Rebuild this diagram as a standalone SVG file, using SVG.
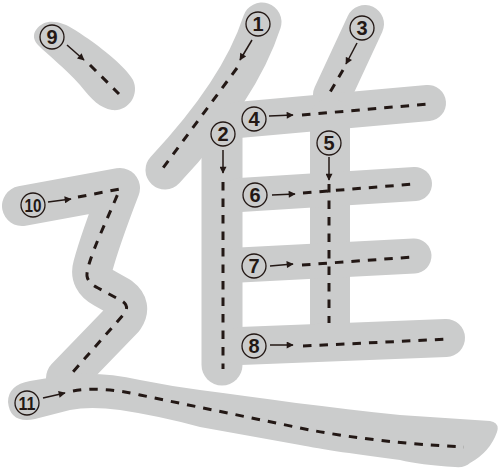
<svg xmlns="http://www.w3.org/2000/svg" width="499" height="470" viewBox="0 0 499 470">
<style>
.b{fill:none;stroke:#cbcccc;stroke-linecap:round;stroke-linejoin:round}
.bf{fill:#cbcccc;stroke:none}
.d{fill:none;stroke:#231815;stroke-width:3;stroke-dasharray:8.5 8}
.c{fill:none;stroke:#231815;stroke-width:1.3}
.n{font-family:"Liberation Sans","DejaVu Sans",sans-serif;font-weight:bold;font-size:20px;fill:#231815;text-anchor:middle}
.n2{font-family:"Liberation Sans Narrow","Liberation Sans",sans-serif;font-weight:bold;font-size:19px;fill:#231815;text-anchor:middle}
.a{fill:none;stroke:#231815;stroke-width:1.5}
</style>
<defs>
<marker id="ah" viewBox="0 0 10 10" refX="9" refY="5" markerWidth="8" markerHeight="7" orient="auto" markerUnits="userSpaceOnUse">
<path d="M0,0 L10,5 L0,10 Z" fill="#231815"/>
</marker>
</defs>
<rect width="499" height="470" fill="#ffffff"/>
<g id="glyph">
<path class="b" stroke-width="39" d="M262,22 Q240,90 165,170"/>
<path class="b" stroke-width="41" d="M222,110 L222,365"/>
<path class="b" stroke-width="38" d="M365,24 L332,95"/>
<path class="b" stroke-width="36" d="M238,120 L428,103"/>
<path class="b" stroke-width="40" d="M330,118 L330,330"/>
<path class="b" stroke-width="34" d="M240,195 L415,184"/>
<path class="b" stroke-width="35" d="M240,265 L414,256"/>
<path class="b" stroke-width="38" d="M240,346 L446,338"/>
<path class="bf" d="M36,30 C44,18 60,20 75,30 C100,46 125,66 133,80 C140,95 128,112 112,110 C100,108 92,100 80,85 C65,68 48,55 38,45 C33,40 33,34 36,30 Z"/>
<path class="b" stroke-width="40" d="M22,206 L120,188 Q100,240 93,266 Q89,280 104,288 L120,297 Q132,306 124,318 L66,378"/>
<path class="bf" d="M30,381 L60,376 Q95,370 140,380 Q170,386 200,390 C260,398 330,408 400,415 L490,421 Q500,423 497,432 Q490,452 470,463 Q465,468 455,467 Q420,465 400,460 C360,455 320,449 300,445 L200,427 Q160,416 120,410 Q90,406 70,410 L35,419 Q10,424 8,402 Q8,385 30,381 Z"/>
</g>
<g id="stroke-1">
<path class="d" d="M237,68 L163,168"/>
<circle class="c" cx="258" cy="24" r="12"/><text class="n" x="258" y="31">1</text>
</g>
<g id="stroke-2">
<path class="d" d="M223,182 L223,369"/>
<circle class="c" cx="223" cy="134" r="12"/><text class="n" x="223" y="141">2</text>
</g>
<g id="stroke-3">
<path class="d" d="M343,70 L329,94"/>
<circle class="c" cx="362" cy="28" r="12"/><text class="n" x="362" y="35">3</text>
</g>
<g id="stroke-4">
<path class="d" d="M302,115 L428,104"/>
<circle class="c" cx="254" cy="119" r="12"/><text class="n" x="254" y="126">4</text>
</g>
<g id="stroke-5">
<path class="d" d="M329,184 L329,323"/>
<circle class="c" cx="329" cy="143" r="12"/><text class="n" x="329" y="150">5</text>
</g>
<g id="stroke-6">
<path class="d" d="M303,193 L414,184"/>
<circle class="c" cx="255" cy="195" r="12"/><text class="n" x="255" y="202">6</text>
</g>
<g id="stroke-7">
<path class="d" d="M302,265 L413,257"/>
<circle class="c" cx="254" cy="266" r="12"/><text class="n" x="254" y="273">7</text>
</g>
<g id="stroke-8">
<path class="d" d="M303,346 L449,339"/>
<circle class="c" cx="254" cy="346" r="12"/><text class="n" x="254" y="353">8</text>
</g>
<g id="stroke-9">
<path class="d" d="M90,65 L119,94"/>
<circle class="c" cx="52" cy="37" r="12"/><text class="n" x="52" y="44">9</text>
</g>
<g id="stroke-10">
<path class="d" d="M78,197 L120,189 L100,235 Q86,268 87,276 Q88,283 98,288 L122,301 Q130,306 124,314 L72,373"/>
<circle class="c" cx="33" cy="205" r="12"/><text class="n2" x="33" y="211.5" textLength="17" lengthAdjust="spacingAndGlyphs">10</text>
</g>
<g id="stroke-11">
<path class="d" d="M73,391 Q100,386 140,395 L310,430 Q380,443 464,447"/>
<circle class="c" cx="27" cy="403" r="12"/><text class="n2" x="27" y="409.5" textLength="17" lengthAdjust="spacingAndGlyphs">11</text>
</g>
<g id="connectors">
<path class="a" marker-end="url(#ah)" d="M252,40 L240,60"/>
<path class="a" marker-end="url(#ah)" d="M223,150 L223,173"/>
<path class="a" marker-end="url(#ah)" d="M357,43 L346,64"/>
<path class="a" marker-end="url(#ah)" d="M269,116 L293,115"/>
<path class="a" marker-end="url(#ah)" d="M329,157 L329,180"/>
<path class="a" marker-end="url(#ah)" d="M272,195 L295,194"/>
<path class="a" marker-end="url(#ah)" d="M270,266 L293,264"/>
<path class="a" marker-end="url(#ah)" d="M270,345 L293,345"/>
<path class="a" marker-end="url(#ah)" d="M67,45 L84,60"/>
<path class="a" marker-end="url(#ah)" d="M48,202 L71,199"/>
<path class="a" marker-end="url(#ah)" d="M43,398 L65,393"/>
</g>
</svg>
